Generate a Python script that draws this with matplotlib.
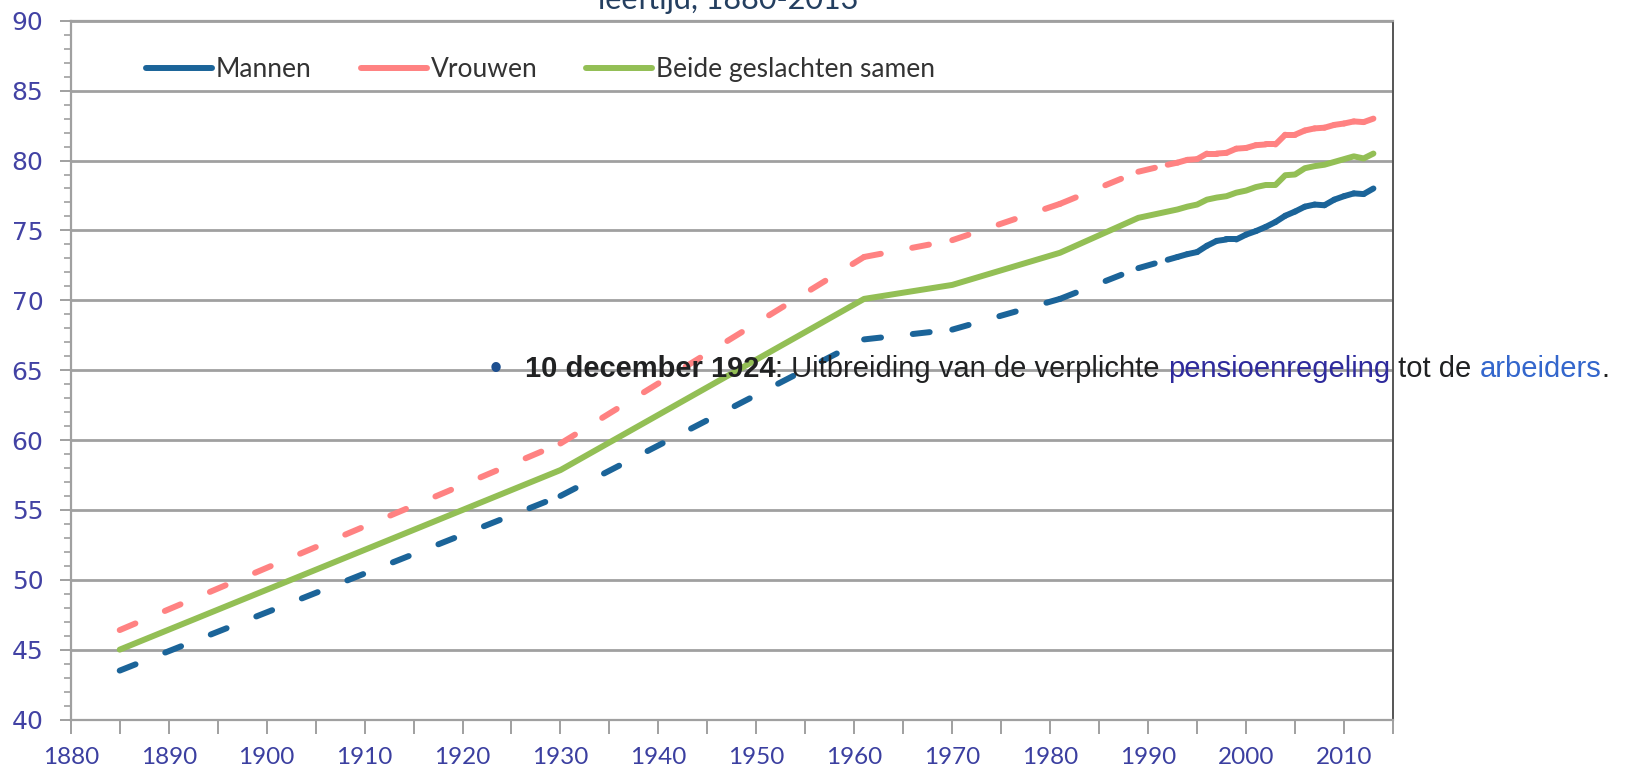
import numpy as np
import matplotlib.pyplot as plt
from matplotlib.collections import LineCollection
from matplotlib.lines import Line2D
from matplotlib.ticker import MultipleLocator

# levensverwachting bij de geboorte (jaren)
jaren = [1885, 1930, 1961, 1970, 1981, 1989, 1992, 1993, 1994, 1995, 1996, 1997,
         1998, 1999, 2000, 2001, 2002, 2003, 2004, 2005, 2006, 2007, 2008, 2009,
         2010, 2011, 2012, 2013]
mannen = [43.5, 56.0, 67.2, 67.9, 70.1, 72.3, 72.9, 73.1, 73.3, 73.45, 73.9, 74.25,
          74.35, 74.35, 74.7, 74.95, 75.25, 75.6, 76.05, 76.35, 76.7, 76.85, 76.8, 77.2,
          77.45, 77.65, 77.6, 78.0]
vrouwen = [46.4, 59.75, 73.1, 74.3, 76.9, 79.2, 79.7, 79.85, 80.05, 80.1, 80.5, 80.5,
           80.55, 80.85, 80.9, 81.1, 81.15, 81.15, 81.85, 81.85, 82.15, 82.3, 82.35, 82.55,
           82.65, 82.8, 82.75, 83.0]
beide = [45.0, 57.85, 70.1, 71.1, 73.4, 75.9, 76.35, 76.5, 76.7, 76.85, 77.2, 77.35,
         77.45, 77.7, 77.85, 78.1, 78.25, 78.25, 78.95, 79.0, 79.45, 79.6, 79.7, 79.9,
         80.1, 80.3, 80.15, 80.5]

blauw = '#1b6499'
roze = '#ff8282'
groen = '#93bf55'
asblauw = '#3b3fa0'

fig = plt.figure(figsize=(16.3, 7.73), dpi=100)
ax = fig.add_axes([0.0434, 0.0692, 0.8112, 0.9039])

lw = 4.3


def gestreept(x, y, kleur):
    # excel herstart het streepjespatroon bij elk segment
    pts = np.column_stack([x, y])
    segs = np.stack([pts[:-1], pts[1:]], axis=1)
    lc = LineCollection(segs, colors=kleur, linewidths=lw,
                        linestyles=[(0, (2.85, 5.35))], capstyle='round', zorder=3)
    ax.add_collection(lc)


gestreept(jaren, mannen, blauw)
gestreept(jaren, vrouwen, roze)
ax.plot(jaren, beide, color=groen, lw=lw, solid_capstyle='round',
        solid_joinstyle='round', zorder=3)

ax.set_xlim(1880, 2015)
ax.set_ylim(40, 90)
ax.xaxis.set_major_locator(MultipleLocator(10))
ax.xaxis.set_minor_locator(MultipleLocator(5))
ax.yaxis.set_major_locator(MultipleLocator(5))
ax.yaxis.set_minor_locator(MultipleLocator(1))

ax.grid(axis='y', which='major', color='#a0a0a0', lw=2, zorder=1)
ax.set_axisbelow(True)
for s in ['left', 'bottom', 'top']:
    ax.spines[s].set_color('#a0a0a0')
    ax.spines[s].set_linewidth(1.6)
ax.spines['right'].set_color('#555555')
ax.spines['right'].set_linewidth(1.4)

ax.tick_params(axis='y', which='major', length=7.7, width=1.4, color='#a0a0a0',
               labelsize=18, labelcolor='#4242a4', pad=12)
ax.tick_params(axis='y', which='minor', length=5.4, width=1.2, color='#a0a0a0')
ax.tick_params(axis='x', which='major', length=10, width=1.4, color='#a0a0a0',
               labelsize=17.5, labelcolor=asblauw, pad=10)
ax.tick_params(axis='x', which='minor', length=10, width=1.4, color='#a0a0a0')
for lab in ax.get_xticklabels():
    lab.set_family('Lato')
for lab in ax.get_yticklabels():
    lab.set_family('DejaVu Sans')

handles = [Line2D([], [], color=blauw, lw=lw, solid_capstyle='round'),
           Line2D([], [], color=roze, lw=lw, solid_capstyle='round'),
           Line2D([], [], color=groen, lw=lw, solid_capstyle='round')]
ax.legend(handles, ['Mannen', 'Vrouwen', 'Beide geslachten samen'],
          loc='center left', bbox_to_anchor=(0.057, 0.93), ncol=3, frameon=False,
          borderpad=0, borderaxespad=0, handlelength=2.5, handletextpad=0.15,
          columnspacing=1.85, prop={'family': 'Lato', 'size': 19},
          labelcolor='#333333')

# afgesneden titel bovenaan
fig.text(0.447, 0.988, 'leeftijd, 1880-2013', ha='center', va='baseline',
         fontsize=22, color='#243f60', family='Lato')

# overlappende tekst
zwart = '#202122'
fs = 21
fig.text(0.304, 0.5226, '\u2022', ha='center', va='center', fontsize=fs + 4,
         color='#1d4f8f', family='Liberation Sans', zorder=10)
stukken = [('10 december 1924', zwart, 'bold'),
           (': Uitbreiding van de verplichte ', zwart, 'normal'),
           ('pensioenregeling', '#2e2a9c', 'normal'),
           (' tot de ', zwart, 'normal'),
           ('arbeiders', '#3366cc', 'normal'),
           ('.', zwart, 'normal')]
teksten = []
for i, (tekst, kleur, gewicht) in enumerate(stukken):
    t = fig.text(0.322, 0.5226, tekst, ha='left', va='center' if i == 0 else 'bottom',
                 fontsize=fs, color=kleur, weight=gewicht, family='Liberation Sans',
                 zorder=10)
    teksten.append(t)

# ketting: zet elk stuk achter het vorige
fig.canvas.draw()
r = fig.canvas.get_renderer()
for a, b in zip(teksten[:-1], teksten[1:]):
    bb = a.get_window_extent(r)
    b.set_position(fig.transFigure.inverted().transform((bb.x1, bb.y0)))
    fig.canvas.draw()

fig.savefig('out.png', dpi=100)
